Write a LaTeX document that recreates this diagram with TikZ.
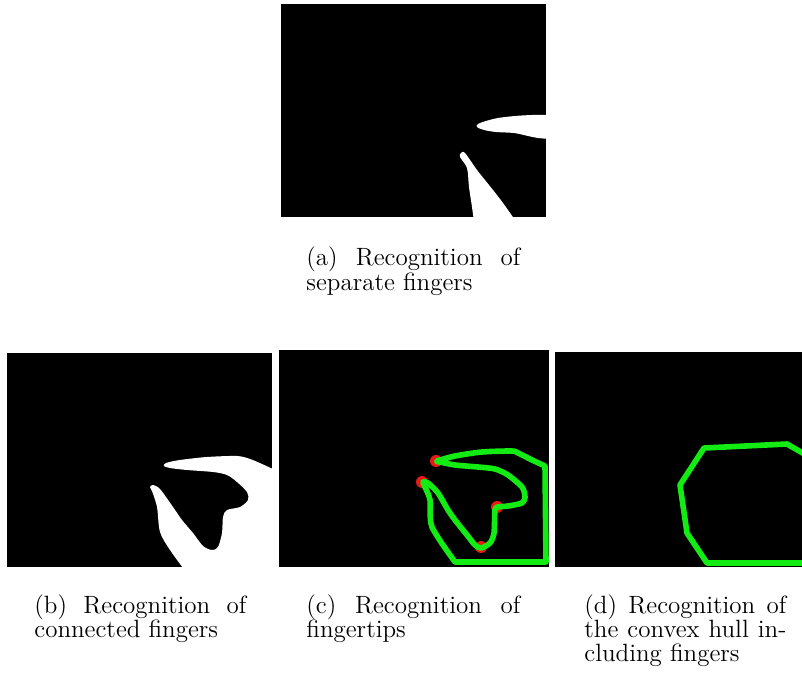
\documentclass[tikz,border=0pt]{standalone}
\definecolor{hullgreen}{RGB}{18,236,18}
\definecolor{tipred}{RGB}{236,24,24}
\begin{document}
\begin{tikzpicture}[x=0.5pt,y=-0.5pt,
  panel/.style={fill=black},
  blob/.style={fill=white},
  contour/.style={draw=hullgreen, line width=2.8pt, line join=round, line cap=round},
  tipdot/.style={fill=tipred},
  caption/.style={anchor=base west, inner sep=0pt, align=justify,
    font=\fontsize{12.5}{12.2}\selectfont}]
\useasboundingbox (0,0) rectangle (802,678);

% (a) two separate fingers
\fill[panel] (281,4) rectangle (546,217);
\begin{scope}
  \clip (281,4) rectangle (546,217);
  \fill[blob] plot[smooth, tension=0.5] coordinates
    {(550,139) (538,138) (528,136) (514,133) (496,132) (484,130) (477,127)
     (478,124) (486,121) (498,118) (515,116) (532,115) (550,115)}
    -- (560,115) -- (560,139) -- cycle;
  \fill[blob] plot[smooth, tension=0.5] coordinates
    {(474,222) (472,207) (469,187) (467,168) (460,157) (461,153) (465,153)
     (477,170) (493,190) (503,203) (515,220)}
    -- (520,230) -- (474,230) -- cycle;
\end{scope}

% (b) connected fingers
\fill[panel] (7,353) rectangle (272,567);
\begin{scope}
  \clip (7,353) rectangle (272,567);
  \fill[blob] plot[smooth, tension=0.5] coordinates
    {(186,572) (170,550) (160,532) (157,507) (152,491) (150,487) (153,485)
     (160,489) (173,507) (182,520) (193,533) (203,546) (212,550) (218,547)
     (222,533) (223,517) (227,510) (240,507) (248,500) (247,492) (237,482)
     (227,475) (213,472) (187,470) (170,468) (164,466) (166,463) (180,460)
     (207,457) (237,456) (250,459) (262,464) (275,470)}
    -- (285,476) -- (285,580) -- (186,580) -- cycle;
\end{scope}

% (c) contour with fingertips
\fill[panel] (279,350) rectangle (549,567);
\foreach \p in {(436,461),(422,482),(497,507),(481,547)}
  \fill[tipdot] \p circle (6);
\draw[contour] plot[smooth, tension=0.45] coordinates
    {(455,562) (432,527) (430,500) (425,487) (423,482) (428,483)
     (438,493) (448,510) (455,520) (467,535) (475,545) (481,548) (490,543)
     (494,533) (495,510) (498,507) (508,506) (522,503) (525,497) (522,487)
     (508,475) (495,469) (478,467) (455,465) (440,462) (437,461) (455,456)
     (482,452) (512,451) (518,453) (532,460) (545,466)}
  -- (546,562) -- cycle;

% (d) convex hull
\fill[panel] (555,352) rectangle (802,567);
\begin{scope}
  \clip (555,352) rectangle (802,567);
  \draw[contour] (806,455) -- (787,444) -- (704,448) -- (680,485)
    -- (687,533) -- (707,563) -- (806,563);
\end{scope}

% sub-captions
\node[caption, text width=107pt] (capa) at (306,266)
  {(a) Recognition of\linebreak separate fingers};
\node[caption, text width=106pt] (capb) at (34,613)
  {(b) Recognition of\linebreak connected fingers};
\node[caption, text width=107pt] (capc) at (306,613)
  {(c) Recognition of\linebreak fingertips};
\node[caption, text width=101pt] (capd) at (584,613)
  {(d) Recognition of\linebreak the convex hull in-\linebreak cluding fingers};
\end{tikzpicture}
\end{document}
